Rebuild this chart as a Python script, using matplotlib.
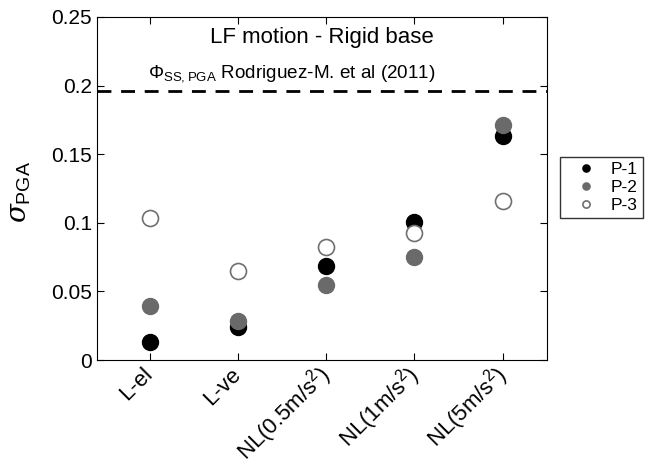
import matplotlib
matplotlib.use('Agg')
import matplotlib.pyplot as plt

cases = ['L-el', 'L-ve', r'NL(0.5m/s$^2$)', r'NL(1m/s$^2$)', r'NL(5m/s$^2$)']
p1 = [0.0134, 0.0237, 0.0688, 0.1005, 0.163]
p2 = [0.0395, 0.0285, 0.0547, 0.0749, 0.171]
p3 = [0.1037, 0.0647, 0.082, 0.0927, 0.1159]
phi_ss = 0.196

plt.rcParams['font.family'] = ['Liberation Sans', 'DejaVu Sans']
plt.rcParams['mathtext.fontset'] = 'custom'
plt.rcParams['mathtext.rm'] = 'Liberation Sans'
plt.rcParams['mathtext.it'] = 'DejaVu Serif:italic'

fig = plt.figure(figsize=(6.47, 4.70), dpi=100)
ax = fig.add_axes([0.150, 0.234, 0.695, 0.730])

x = range(1, len(cases) + 1)
ax.axhline(phi_ss, color='black', ls=(0, (5, 3.5)), lw=2)
ax.plot(x, p1, 'o', ms=11.5, color='black', mec='black', label='P-1')
ax.plot(x, p2, 'o', ms=11.5, color='#6a6a6a', mec='#6a6a6a', label='P-2')
ax.plot(x, p3, 'o', ms=11.5, mfc='white', mec='#707070', mew=1.2, label='P-3')

ax.set_xlim(0.4, 5.5)
ax.set_ylim(0, 0.25)
ax.set_xticks(list(x))
ax.set_xticklabels(cases, rotation=45, ha='right', va='center',
                   rotation_mode='anchor', fontsize=16)
ax.set_yticks([0, 0.05, 0.1, 0.15, 0.2, 0.25])
ax.set_yticklabels(['0', '0.05', '0.1', '0.15', '0.2', '0.25'], fontsize=15)
ax.tick_params(direction='in', top=True, right=True, length=5)
ax.tick_params(axis='x', pad=8)
ax.set_ylabel(r'$\sigma_{\rm PGA}$', fontsize=20)
ax.yaxis.set_label_coords(-0.143, 0.49)

ax.text(0.5, 0.939, 'LF motion - Rigid base', transform=ax.transAxes,
        ha='center', va='center', fontsize=16)
ax.text(0.113, 0.835, r'$\Phi_{\rm SS,PGA}$ Rodriguez-M. et al (2011)',
        transform=ax.transAxes, ha='left', va='center', fontsize=13.6)

fig.legend(loc='upper left', bbox_to_anchor=(0.866, 0.666), borderaxespad=0,
           frameon=True, fancybox=False, edgecolor='black', fontsize=12.5,
           handletextpad=0.2, labelspacing=0.15, borderpad=0.3,
           markerscale=0.45, handlelength=2.4)

fig.savefig('out.png', dpi=100)
